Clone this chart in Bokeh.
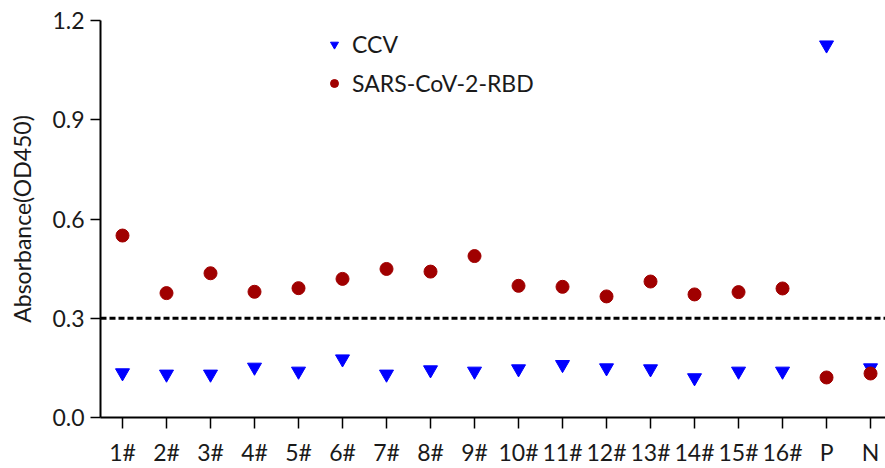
from bokeh.plotting import figure
from bokeh.models import Range1d, FixedTicker, PrintfTickFormatter, Span, Legend, LegendItem, ColumnDataSource
from bokeh.embed import file_html
from bokeh.resources import INLINE

categories = ["1#", "2#", "3#", "4#", "5#", "6#", "7#", "8#", "9#", "10#",
              "11#", "12#", "13#", "14#", "15#", "16#", "P", "N"]
ccv = [0.135, 0.131, 0.131, 0.152, 0.140, 0.177, 0.131, 0.144, 0.140, 0.147,
       0.160, 0.150, 0.147, 0.120, 0.140, 0.140, 1.126, 0.150]
rbd = [0.550, 0.376, 0.436, 0.380, 0.391, 0.419, 0.449, 0.441, 0.488, 0.398,
       0.395, 0.366, 0.411, 0.372, 0.379, 0.390, 0.121, 0.133]
y_ticks = [0.0, 0.3, 0.6, 0.9, 1.2]
cutoff = 0.3

FONT = "Lato"
FS = "23px"
TXT = "#1a1a1a"

xs = list(range(len(categories)))
src = ColumnDataSource(dict(x=xs, ccv=ccv, rbd=rbd))

p = figure(width=885, height=468, output_backend="svg", toolbar_location=None,
           x_range=Range1d(-0.5, 17.34), y_range=Range1d(0, 1.2),
           min_border_left=100, min_border_right=0, min_border_top=20, min_border_bottom=51)
p.outline_line_color = None
p.grid.visible = False
p.background_fill_color = "white"

r_ccv = p.scatter("x", "ccv", source=src, marker="inverted_triangle", size=14,
                  fill_color="#0000FF", line_color="#0000FF")
r_rbd = p.scatter("x", "rbd", source=src, marker="circle", size=13,
                  fill_color="#A00000", line_color="#A00000")

p.add_layout(Span(location=cutoff, dimension="width", line_color="black",
                  line_width=3, line_dash="6 3"))

# axes
p.xaxis.ticker = FixedTicker(ticks=xs)
p.xaxis.major_label_overrides = {i: c for i, c in zip(xs, categories)}
p.yaxis.ticker = FixedTicker(ticks=y_ticks)
p.yaxis.formatter = PrintfTickFormatter(format="%.1f")
p.yaxis.axis_label = "Absorbance(OD450)"

for ax in (p.xaxis, p.yaxis):
    ax.axis_line_width = 2
    ax.axis_line_color = "black"
    ax.major_tick_line_width = 1.5
    ax.major_tick_line_color = "black"
    ax.minor_tick_line_color = None
    ax.major_tick_in = 0
    ax.major_label_text_font = FONT
    ax.major_label_text_font_size = FS
    ax.major_label_text_color = TXT

p.xaxis.major_tick_out = 11
p.xaxis.major_label_standoff = 9
p.yaxis.major_tick_out = 10
p.yaxis.major_label_standoff = 6
p.yaxis.axis_label_text_font = FONT
p.yaxis.axis_label_text_font_size = FS
p.yaxis.axis_label_text_font_style = "normal"
p.yaxis.axis_label_text_color = TXT
p.yaxis.axis_label_standoff = 13

legend = Legend(items=[LegendItem(label="CCV", renderers=[r_ccv]),
                       LegendItem(label="SARS-CoV-2-RBD", renderers=[r_rbd])],
                location=(224, 320))
legend.background_fill_alpha = 0
legend.border_line_alpha = 0
legend.padding = 0
legend.margin = 0
legend.spacing = 11
legend.glyph_width = 20
legend.glyph_height = 28
legend.label_height = 28
legend.label_standoff = 8
legend.label_text_font = FONT
legend.label_text_font_size = FS
legend.label_text_color = TXT
p.add_layout(legend, "center")

open("out.html", "w").write(file_html(p, INLINE))
